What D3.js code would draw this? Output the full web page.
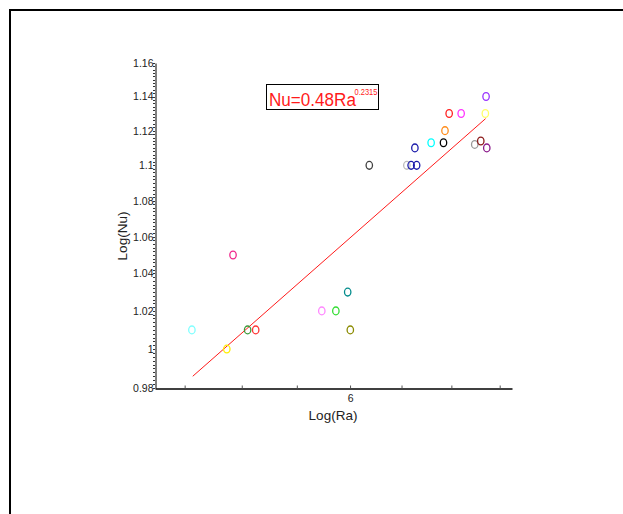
<!DOCTYPE html>
<html>
<head>
<meta charset="utf-8">
<script src="https://cdn.jsdelivr.net/npm/d3@7"></script>
<style>
  html, body { margin: 0; padding: 0; background: #fff; }
  svg { display: block; font-family: Arial, "Liberation Sans", sans-serif; }
</style>
</head>
<body>
<svg id="chart" width="623" height="514"></svg>
<script>
// Measured points: log(Ra) against log(Nu)
const logRa = [5.425, 5.547, 5.569, 5.621, 5.650, 5.893, 5.946, 5.991, 6.001,
               6.074, 6.221, 6.238, 6.260, 6.253, 6.318, 6.368, 6.374, 6.391,
               6.440, 6.496, 6.521, 6.540, 6.543, 6.546];
const logNu = [1.01, 1.00, 1.05, 1.01, 1.01, 1.02, 1.02, 1.03, 1.01,
               1.10, 1.10, 1.10, 1.10, 1.11, 1.113, 1.113, 1.12, 1.13,
               1.13, 1.112, 1.114, 1.13, 1.14, 1.11];
const pointColors = ["#80ffff", "#ffee00", "#f0288c", "#3c9a3c", "#ff3333", "#ff88ff",
                     "#33dd33", "#008b8b", "#8b8b00", "#404040", "#bbbbbb", "#1a1aaa",
                     "#1a1aaa", "#1a1aaa", "#00ffff", "#000000", "#ff8c1a", "#ff2020",
                     "#ff33ff", "#999999", "#8b1a1a", "#ffff66", "#9933ff", "#8b1a8b"];

// Fitted correlation line, endpoints
const fitRa = [5.428, 6.541];
const fitNu = [0.986, 1.127];

// Axis ticks
const yTicks = [0.98, 1.0, 1.02, 1.04, 1.06, 1.08, 1.1, 1.12, 1.14, 1.16];
const xTicks = [5.4, 5.6, 5.8, 6.0, 6.2, 6.4, 6.6];
const xLabelled = [6];

const svg = d3.select("#chart");

// outer frame (top and left edges)
svg.append("path")
  .attr("d", "M10,514 V10 H623")
  .attr("fill", "none")
  .attr("stroke", "#000")
  .attr("stroke-width", 2);

const x = d3.scaleLog().domain([5.299, 6.652]).range([155, 512]);
const y = d3.scaleLog().domain([0.98, 1.16]).range([388, 63]);

// y axis: dense minor ticks give the dotted spine
const minor = d3.range(0, 91).map(i => 0.98 + i * 0.002);
svg.append("g").selectAll("line")
  .data(minor)
  .join("line")
  .attr("x1", 153).attr("x2", 155)
  .attr("y1", d => Math.round(y(d)) + 0.5)
  .attr("y2", d => Math.round(y(d)) + 0.5)
  .attr("stroke", "#333")
  .attr("stroke-width", 1);

const yAxis = svg.append("g")
  .attr("transform", "translate(155.5,0)")
  .call(d3.axisLeft(y).tickValues(yTicks).tickSize(0).tickPadding(2)
    .tickFormat(d => d3.format("")(+d.toFixed(2))));
yAxis.select(".domain").attr("stroke", "#000").attr("stroke-width", 1);
yAxis.selectAll("text").attr("font-size", 10.5).attr("fill", "#222")
  .attr("font-family", "Arial, 'Liberation Sans', sans-serif");

// x axis
const xAxis = svg.append("g")
  .attr("transform", "translate(0,388.5)")
  .call(d3.axisBottom(x).tickValues(xTicks).tickSizeInner(-3).tickSizeOuter(0).tickPadding(6)
    .tickFormat(d => xLabelled.includes(Math.round(d * 10) / 10) ? d3.format("d")(d) : ""));
xAxis.select(".domain").attr("stroke", "#000").attr("stroke-width", 1.3);
xAxis.selectAll(".tick line").attr("stroke", "#555");
xAxis.selectAll("text").attr("font-size", 10.5).attr("fill", "#222")
  .attr("font-family", "Arial, 'Liberation Sans', sans-serif");

// axis titles
svg.append("text")
  .attr("x", 333).attr("y", 420)
  .attr("text-anchor", "middle")
  .attr("font-size", 13.5)
  .attr("fill", "#222")
  .text("Log(Ra)");

svg.append("text")
  .attr("transform", "translate(127,236) rotate(-90)")
  .attr("text-anchor", "middle")
  .attr("font-size", 13.5)
  .attr("fill", "#222")
  .text("Log(Nu)");

// fitted line
const line = d3.line().x(d => x(d[0])).y(d => y(d[1]));
svg.append("path")
  .datum(d3.zip(fitRa, fitNu))
  .attr("d", line)
  .attr("fill", "none")
  .attr("stroke", "#ff1a1a")
  .attr("stroke-width", 1);

// data markers
svg.append("g").selectAll("ellipse")
  .data(d3.range(logRa.length))
  .join("ellipse")
  .attr("cx", i => x(logRa[i]))
  .attr("cy", i => y(logNu[i]))
  .attr("rx", 3.2)
  .attr("ry", 3.9)
  .attr("fill", "none")
  .attr("stroke", i => pointColors[i])
  .attr("stroke-width", 1.3);

// correlation label (condensed glyphs via horizontal scale)
const eq = svg.append("g");
eq.append("rect")
  .attr("x", 266.5).attr("y", 84.5)
  .attr("width", 112).attr("height", 25)
  .attr("fill", "#fff")
  .attr("stroke", "#000")
  .attr("stroke-width", 1);
eq.append("text")
  .attr("transform", "translate(269,105.5) scale(0.9,1)")
  .attr("font-size", 19)
  .attr("fill", "#ff1a1a")
  .text("Nu=0.48Ra");
eq.append("text")
  .attr("transform", "translate(354.5,95) scale(0.88,1)")
  .attr("font-size", 8.5)
  .attr("fill", "#ff1a1a")
  .text("0.2315");
</script>
</body>
</html>
